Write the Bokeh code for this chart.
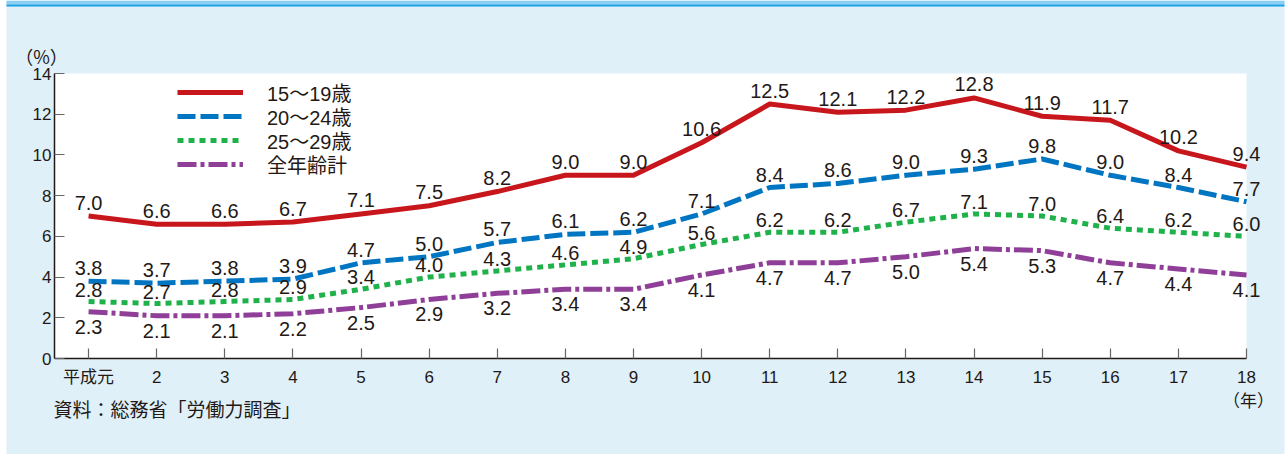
from bokeh.plotting import figure
from bokeh.models import (ColumnDataSource, FixedTicker, Legend, LegendItem,
                          Label, Range1d, BoxAnnotation)
from bokeh.core.properties import value
from bokeh.embed import file_html
from bokeh.resources import INLINE

# ---- data -------------------------------------------------------------
years = [1, 2, 3, 4, 5, 6, 7, 8, 9, 10, 11, 12, 13, 14, 15, 16, 17, 18]
tick_labels = ["平成元", "2", "3", "4", "5", "6", "7", "8", "9", "10",
               "11", "12", "13", "14", "15", "16", "17", "18"]
y_ticks = [0, 2, 4, 6, 8, 10, 12, 14]

age_15_19 = [7.0, 6.6, 6.6, 6.7, 7.1, 7.5, 8.2, 9.0, 9.0, 10.6,
             12.5, 12.1, 12.2, 12.8, 11.9, 11.7, 10.2, 9.4]
age_20_24 = [3.8, 3.7, 3.8, 3.9, 4.7, 5.0, 5.7, 6.1, 6.2, 7.1,
             8.4, 8.6, 9.0, 9.3, 9.8, 9.0, 8.4, 7.7]
age_25_29 = [2.8, 2.7, 2.8, 2.9, 3.4, 4.0, 4.3, 4.6, 4.9, 5.6,
             6.2, 6.2, 6.7, 7.1, 7.0, 6.4, 6.2, 6.0]
all_ages = [2.3, 2.1, 2.1, 2.2, 2.5, 2.9, 3.2, 3.4, 3.4, 4.1,
            4.7, 4.7, 5.0, 5.4, 5.3, 4.7, 4.4, 4.1]

series_names = ["15〜19歳", "20〜24歳", "25〜29歳", "全年齢計"]
unit_y = "（%）"
unit_x = "（年）"
source_note = "資料：総務省「労働力調査」"

# axis extents (value space of the plotted area)
X_MIN, X_MAX = 0.5, 18
Y_MIN, Y_MAX = 0, 14

# ---- layout / styles ---------------------------------------------------
W, H = 1286, 454
PLOT_L, PLOT_R, PLOT_T, PLOT_B = 54, 1246, 73, 358   # pixel box of plot area
PAGE_L, PAGE_R = 6, 1284                             # light-blue panel edges
STRIPE_1, STRIPE_2 = 4, 6                            # top stripe rows

BG = "#dff0f9"
TXT = "#231815"
AXIS = "#231815"
COLORS = ["#c8161d", "#0075c2", "#1fb24b", "#8f3f98"]
DASHES = ["solid", "18 5", "6 5", "19 4 4 4"]
LABEL_OFF = [-13.5, -13, -12, 15]
FONT_MIX = "'Liberation Sans', 'Noto Sans CJK JP', sans-serif"
FONT_NUM = "'Liberation Sans', sans-serif"
FONT_JP = "'Noto Sans CJK JP', sans-serif"

# legend geometry (pixels)
LEG_ITEM_H = 34
LEG_PITCH = 24
LEG_FIRST_CY = 92
LEG_X = 177

ppx = (PLOT_R - PLOT_L) / (X_MAX - X_MIN)
ppy = (PLOT_B - PLOT_T) / (Y_MAX - Y_MIN)


def px2x(px):
    return X_MIN + (px - PLOT_L) / ppx


def px2y(py):
    return Y_MIN + (PLOT_B - py) / ppy


src = ColumnDataSource(dict(
    year=years,
    s0=age_15_19, s1=age_20_24, s2=age_25_29, s3=all_ages,
    t0=[f"{v:.1f}" for v in age_15_19],
    t1=[f"{v:.1f}" for v in age_20_24],
    t2=[f"{v:.1f}" for v in age_25_29],
    t3=[f"{v:.1f}" for v in all_ages],
))

p = figure(width=W, height=H,
           x_range=Range1d(px2x(0), px2x(W)),
           y_range=Range1d(px2y(H), px2y(0)),
           output_backend="svg", toolbar_location=None,
           min_border=0,
           background_fill_color="white", border_fill_color="white",
           outline_line_color=None)
p.grid.visible = False

# light-blue panel, top stripe, white plot area
p.add_layout(BoxAnnotation(left=px2x(PAGE_L), right=px2x(PAGE_R),
                           top=px2y(0), bottom=px2y(H),
                           fill_color=BG, fill_alpha=1, line_color=None,
                           level="underlay"))
p.add_layout(BoxAnnotation(left=px2x(PAGE_L), right=px2x(PAGE_R),
                           top=px2y(0), bottom=px2y(STRIPE_1),
                           fill_color="#8bd0f3", fill_alpha=1,
                           line_color=None, level="underlay"))
p.add_layout(BoxAnnotation(left=px2x(PAGE_L), right=px2x(PAGE_R),
                           top=px2y(STRIPE_1), bottom=px2y(STRIPE_2),
                           fill_color="#17a0e4", fill_alpha=1,
                           line_color=None, level="underlay"))
p.add_layout(BoxAnnotation(left=X_MIN, right=X_MAX, top=Y_MAX, bottom=Y_MIN,
                           fill_color="white", fill_alpha=1, line_color=None,
                           level="underlay"))

renderers = []
for i in range(4):
    r = p.line(x="year", y=f"s{i}", source=src, line_color=COLORS[i],
               line_width=5, line_dash=DASHES[i], line_cap="butt",
               line_join="round")
    renderers.append(r)

for i in range(4):
    p.text(x="year", y=f"s{i}", text=f"t{i}", source=src,
           text_align="center", text_baseline="middle",
           y_offset=LABEL_OFF[i],
           text_font=value(FONT_NUM), text_font_size="20px",
           text_color=TXT)

# axes (drawn at the plot-area edges)
p.xaxis.ticker = FixedTicker(ticks=years)
p.xaxis.major_label_overrides = {y: t for y, t in zip(years, tick_labels)}
p.xaxis.fixed_location = Y_MIN
p.xaxis.bounds = (X_MIN, X_MAX)
p.yaxis.ticker = FixedTicker(ticks=y_ticks)
p.yaxis.fixed_location = X_MIN
p.yaxis.bounds = (Y_MIN, Y_MAX)
for ax in (p.xaxis[0], p.yaxis[0]):
    ax.axis_line_color = AXIS
    ax.axis_line_width = 1.5
    ax.major_tick_in = 10
    ax.major_tick_out = 0
    ax.major_tick_line_color = "#666666"
    ax.major_tick_line_width = 1.2
    ax.minor_tick_line_color = None
    ax.major_label_text_font = FONT_MIX
    ax.major_label_text_font_size = "17px"
    ax.major_label_text_color = TXT
p.xaxis.major_label_standoff = 9
p.yaxis.major_label_standoff = 3

# legend: one single-item legend per series, stacked at a fixed pitch
for i in range(len(series_names)):
    cy = LEG_FIRST_CY + i * LEG_PITCH
    bottom_px = cy + LEG_ITEM_H / 2
    leg = Legend(
        items=[LegendItem(label=series_names[i], renderers=[renderers[i]])],
        location=(LEG_X, round(H - bottom_px)), orientation="vertical",
        padding=0, margin=0, spacing=0,
        glyph_width=66, glyph_height=LEG_ITEM_H, label_height=LEG_ITEM_H,
        label_standoff=24,
        label_text_font=FONT_MIX, label_text_font_size="20px",
        label_text_color=TXT,
        background_fill_alpha=0, border_line_color=None)
    p.add_layout(leg)

# texts
p.add_layout(Label(x=41, y=H - 55, x_units="screen", y_units="screen",
                   text=unit_y, text_align="center", text_baseline="middle",
                   text_font=FONT_JP, text_font_size="18px", text_color=TXT))
p.add_layout(Label(x=1248, y=H - 399, x_units="screen", y_units="screen",
                   text=unit_x, text_align="center", text_baseline="middle",
                   text_font=FONT_JP, text_font_size="17px", text_color=TXT))
p.add_layout(Label(x=53, y=H - 408, x_units="screen", y_units="screen",
                   text=source_note, text_align="left",
                   text_baseline="middle",
                   text_font=FONT_JP, text_font_size="19px", text_color=TXT))

open("out.html", "w").write(file_html(p, INLINE))
